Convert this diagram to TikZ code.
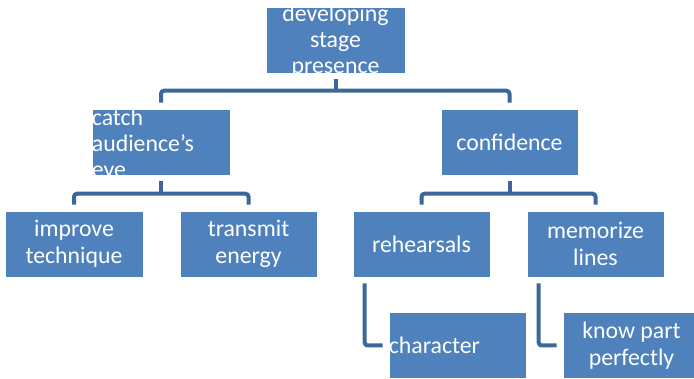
\documentclass[tikz,border=0pt]{standalone}
\usepackage{fontspec}
\setmainfont{Carlito}
\usetikzlibrary{shapes}
\usetikzlibrary{positioning}
\definecolor{boxblue}{RGB}{79,129,189}
\definecolor{lineblue}{RGB}{60,103,154}

\begin{document}
\begin{tikzpicture}[x=1pt,y=-1pt,
	main node/.style={rectangle,fill=boxblue,draw=white,line width=0.6pt,minimum width=137pt,minimum height=66pt,inner sep=0pt,text=white,align=center,font=\fontsize{23.8}{27}\selectfont},
	main text/.style={text=white,align=center,inner sep=0pt,font=\fontsize{23.8}{26}\selectfont},
	link/.style={draw=lineblue,line width=4pt,rounded corners=3pt,shorten <=6pt,shorten >=6pt}]
	
	\useasboundingbox (0,0) rectangle (694,379);
	
	\node[main node,minimum width=139pt,label={[main text,yshift=-1pt]center:{developing\\stage\\presence}}] at (335.5,40) (1) {};
	\node[main node,minimum width=138pt,label={[main text,align=left,anchor=north west]north west:{catch\\audience’s\\eye}}] at (161,142) (2) {};
	\node[main node] at (509.5,142) (3) {confidence};
	\node[main node,minimum width=138pt] at (74,244) (4) {improve\\technique};
	\node[main node] at (248.5,244) (5) {transmit\\energy};
	\node[main node] at (421.5,244) (6) {rehearsals};
	\node[main node] at (595.5,244) (7) {memorize\\lines};
	\node[main node,label={[main text,anchor=west]west:character}] at (457.5,345.5) (8) {};
	\node[main node] at (631.5,345.5) (9) {know part\\perfectly};
	
	\draw[link,shorten >=0pt] (1.south) -- ++(0,18);
	\draw[link] (2.north) -- ++(0,-18) -| (3.north);
	\draw[link,shorten >=0pt] (2.south) -- ++(0,18);
	\draw[link] (4.north) -- ++(0,-17) -| (5.north);
	\draw[link,shorten >=0pt] (3.south) -- ++(0,18);
	\draw[link] (6.north) -- ++(0,-17) -| (7.north);
	\draw[link] ([xshift=12pt]6.south west) |- (8.west);
	\draw[link] ([xshift=12pt]7.south west) |- (9.west);
	
\end{tikzpicture}
\end{document}
